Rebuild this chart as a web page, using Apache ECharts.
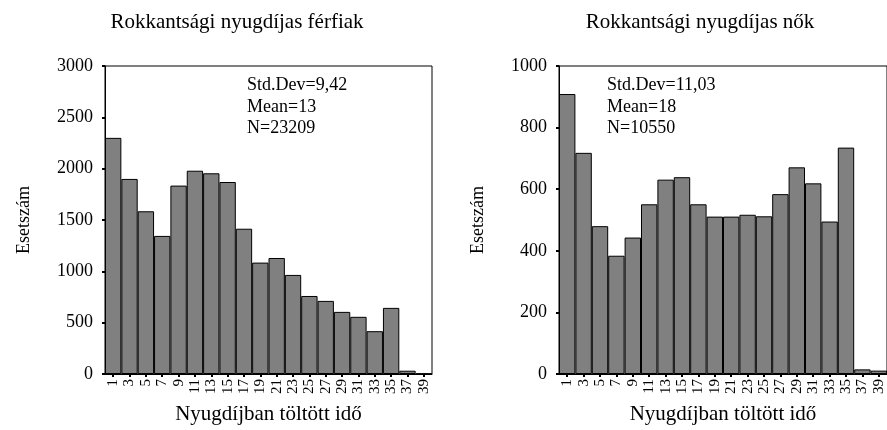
<!DOCTYPE html>
<html>
<head>
<meta charset="utf-8">
<script src="https://cdn.jsdelivr.net/npm/echarts@6/dist/echarts.min.js"></script>
<style>
  html, body { margin: 0; padding: 0; background: #fff; }
  #chart { width: 887px; height: 430px; }
</style>
</head>
<body>
<div id="chart"></div>
<script>
// category labels (years spent in retirement, bin midpoints)
const categories = ["1", "3", "5", "7", "9", "11", "13", "15", "17", "19",
  "21", "23", "25", "27", "29", "31", "33", "35", "37", "39"];

// case counts, men
const menCounts = [2300, 1900, 1585, 1345, 1835, 1980, 1955, 1870, 1415, 1085,
  1130, 965, 760, 712, 605, 557, 417, 644, 32, 3];

// case counts, women
const womenCounts = [909, 718, 480, 384, 443, 551, 631, 639, 551, 511,
  511, 517, 512, 584, 671, 619, 495, 735, 15, 11];

const menStats = ["Std.Dev=9,42", "Mean=13", "N=23209"];
const womenStats = ["Std.Dev=11,03", "Mean=18", "N=10550"];

const FONT = "Liberation Serif";

const chart = echarts.init(document.getElementById("chart"));

function xAxisFor(gridIndex) {
  return {
    type: "category",
    gridIndex: gridIndex,
    data: categories,
    name: "Nyugdíjban töltött idő",
    nameLocation: "middle",
    nameGap: 30,
    nameTextStyle: { fontFamily: FONT, fontSize: 21, color: "#000" },
    axisLine: { lineStyle: { color: "#000", width: 1 } },
    axisTick: { show: true, alignWithLabel: true, length: 3, lineStyle: { color: "#000", width: 2 } },
    axisLabel: { rotate: 90, margin: 5, interval: 0, fontFamily: FONT, fontSize: 15, color: "#000" },
    splitLine: { show: false }
  };
}

function yAxisFor(gridIndex, max, interval) {
  return {
    type: "value",
    gridIndex: gridIndex,
    min: 0,
    max: max,
    interval: interval,
    name: "Esetszám",
    nameLocation: "middle",
    nameGap: 72,
    nameTextStyle: { fontFamily: FONT, fontSize: 18, color: "#000" },
    axisLine: { show: true, lineStyle: { color: "#000", width: 1 } },
    axisTick: { show: true, length: 3, lineStyle: { color: "#000", width: 2 } },
    axisLabel: { margin: 12, fontFamily: FONT, fontSize: 18, color: "#000", formatter: (v) => String(v) },
    splitLine: { show: false }
  };
}

function statsText(lines, x) {
  return {
    type: "text",
    left: x,
    top: 75,
    style: {
      text: lines.join("\n"),
      fontFamily: FONT,
      fontSize: 18,
      lineHeight: 21.5,
      fill: "#000"
    }
  };
}

const option = {
  backgroundColor: "#fff",
  animation: false,
  grid: [
    { left: 105, top: 66, width: 327, height: 309, show: true, borderColor: "#000", borderWidth: 1 },
    { left: 559, top: 66, width: 328, height: 309, show: true, borderColor: "#000", borderWidth: 1 }
  ],
  xAxis: [xAxisFor(0), xAxisFor(1)],
  yAxis: [yAxisFor(0, 3000, 500), yAxisFor(1, 1000, 200)],
  graphic: [
    {
      type: "text", x: 237, y: 22,
      style: { text: "Rokkantsági nyugdíjas férfiak", fontFamily: FONT, fontSize: 21, fill: "#000", align: "center", verticalAlign: "middle" }
    },
    {
      type: "text", x: 700, y: 22,
      style: { text: "Rokkantsági nyugdíjas nők", fontFamily: FONT, fontSize: 21, fill: "#000", align: "center", verticalAlign: "middle" }
    },
    statsText(menStats, 247),
    statsText(womenStats, 607)
  ],
  series: [
    {
      type: "bar",
      xAxisIndex: 0,
      yAxisIndex: 0,
      data: menCounts,
      barCategoryGap: "0%",
      itemStyle: { color: "#808080", borderColor: "#000", borderWidth: 1 }
    },
    {
      type: "bar",
      xAxisIndex: 1,
      yAxisIndex: 1,
      data: womenCounts,
      barCategoryGap: "0%",
      itemStyle: { color: "#808080", borderColor: "#000", borderWidth: 1 }
    }
  ]
};

chart.setOption(option);
</script>
</body>
</html>
